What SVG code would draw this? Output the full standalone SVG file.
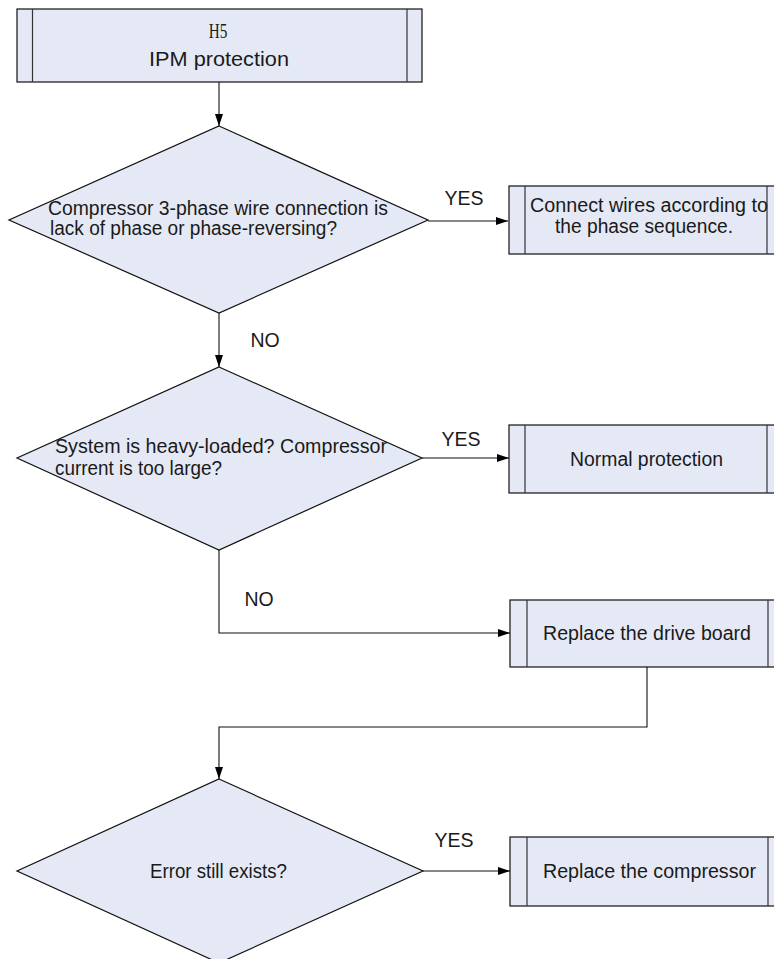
<svg xmlns="http://www.w3.org/2000/svg" width="774" height="959" viewBox="0 0 774 959">
<style>
.shape{fill:#E5E9F5;stroke:#111;stroke-width:1.2}
.inner{stroke:#333;stroke-width:1.2}
.t{font-family:"Liberation Sans",Arial,sans-serif;font-size:19.5px;fill:#1a1a1a}
.c{text-anchor:middle}
.conn{fill:none;stroke:#111;stroke-width:1.1}
</style>
<defs>
<marker id="arr" markerWidth="12" markerHeight="8" refX="12" refY="4" orient="auto" markerUnits="userSpaceOnUse">
<path d="M0,0 L12,4 L0,8 z" fill="#000"/>
</marker>
</defs>
<rect width="774" height="959" fill="#fff"/>
<g id="connectors">
<path class="conn" d="M219,82 V126" marker-end="url(#arr)"/>
<path class="conn" d="M428,221 H508" marker-end="url(#arr)"/>
<path class="conn" d="M219,313 V367" marker-end="url(#arr)"/>
<path class="conn" d="M422,458 H509" marker-end="url(#arr)"/>
<path class="conn" d="M219,550 V633 H510" marker-end="url(#arr)"/>
<path class="conn" d="M647,667 V727 H219 V779" marker-end="url(#arr)"/>
<path class="conn" d="M423,871 H510" marker-end="url(#arr)"/>
<text class="t c" x="464" y="205" font-size="20">YES</text>
<text class="t c" x="265" y="347" font-size="20.5">NO</text>
<text class="t c" x="461" y="446" font-size="20">YES</text>
<text class="t c" x="259" y="606" font-size="20.5">NO</text>
<text class="t c" x="454" y="847" font-size="20">YES</text>
</g>
<g id="start">
<rect class="shape" x="17" y="9" width="405" height="73"/>
<line class="inner" x1="32.5" y1="9" x2="32.5" y2="82"/>
<line class="inner" x1="407" y1="9" x2="407" y2="82"/>
<text x="218" y="38.5" text-anchor="middle" font-family="'Liberation Serif','Times New Roman',serif" font-size="16" fill="#1a1a1a" transform="translate(218 38.5) scale(0.95 1.25) translate(-218 -38.5)">H5</text>
<text class="t c" x="219" y="66" font-size="21" textLength="140" lengthAdjust="spacingAndGlyphs">IPM protection</text>
</g>
<g id="decision1">
<polygon class="shape" points="219,126 428,220 219,313 9,220"/>
<text class="t" x="48" y="215" textLength="340" lengthAdjust="spacingAndGlyphs">Compressor 3-phase wire connection is</text>
<text class="t" x="50" y="235" textLength="287" lengthAdjust="spacingAndGlyphs">lack of phase or phase-reversing?</text>
</g>
<g id="box1">
<rect class="shape" x="509" y="186" width="274" height="68"/>
<line class="inner" x1="525" y1="186" x2="525" y2="254"/>
<line class="inner" x1="767" y1="186" x2="767" y2="254"/>
<text class="t" x="530" y="212" textLength="238" lengthAdjust="spacingAndGlyphs">Connect wires according to</text>
<text class="t c" x="644" y="233" textLength="178" lengthAdjust="spacingAndGlyphs">the phase sequence.</text>
</g>
<g id="decision2">
<polygon class="shape" points="219,367 422,458 219,550 17,458"/>
<text class="t" x="55" y="453" textLength="332" lengthAdjust="spacingAndGlyphs">System is heavy-loaded? Compressor</text>
<text class="t" x="55" y="475" textLength="167" lengthAdjust="spacingAndGlyphs">current is too large?</text>
</g>
<g id="box2">
<rect class="shape" x="509" y="425" width="274" height="68"/>
<line class="inner" x1="525" y1="425" x2="525" y2="493"/>
<line class="inner" x1="767" y1="425" x2="767" y2="493"/>
<text class="t c" x="646.5" y="466" textLength="153" lengthAdjust="spacingAndGlyphs">Normal protection</text>
</g>
<g id="box3">
<rect class="shape" x="510" y="600" width="274" height="67"/>
<line class="inner" x1="527" y1="600" x2="527" y2="667"/>
<line class="inner" x1="768" y1="600" x2="768" y2="667"/>
<text class="t c" x="647" y="640" textLength="208" lengthAdjust="spacingAndGlyphs">Replace the drive board</text>
</g>
<g id="decision3">
<polygon class="shape" points="219,779 423,871 219,963 17,871"/>
<text class="t c" x="218.5" y="878" textLength="137" lengthAdjust="spacingAndGlyphs">Error still exists?</text>
</g>
<g id="box4">
<rect class="shape" x="510" y="837" width="274" height="69"/>
<line class="inner" x1="527" y1="837" x2="527" y2="906"/>
<line class="inner" x1="768" y1="837" x2="768" y2="906"/>
<text class="t c" x="649.5" y="878" textLength="213" lengthAdjust="spacingAndGlyphs">Replace the compressor</text>
</g>
</svg>
